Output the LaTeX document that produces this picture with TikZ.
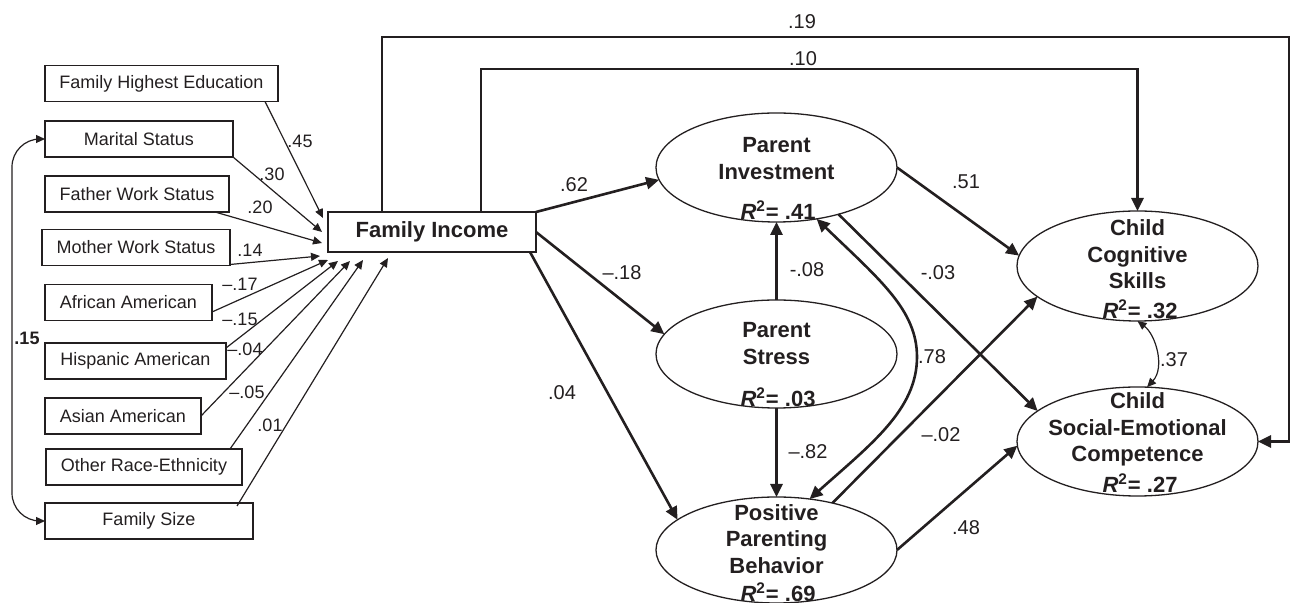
\documentclass[tikz,border=0pt]{standalone}
\usepackage{fontspec}
\setmainfont{Liberation Sans}
\usetikzlibrary{arrows.meta,calc,shapes.geometric}
\definecolor{ink}{HTML}{231F20}
\newcommand\Rsqlab[1]{\textit{R}\textsuperscript{2}= #1}
\begin{document}
\begin{tikzpicture}[x=0.5pt,y=-0.5pt,ink,
  lbox/.style={draw=ink,line width=0.75pt,inner sep=0pt,outer sep=0pt,minimum height=18pt,font=\fontsize{9}{10}\selectfont},
  lat/.style={draw=ink,ellipse,line width=0.65pt,inner sep=0pt,outer sep=0pt,minimum width=120.5pt,minimum height=54.5pt},
  ltxt/.style={font=\fontsize{11}{13.3}\selectfont\bfseries,align=center,inner sep=0pt},
  coef/.style={font=\fontsize{9}{10}\selectfont,inner sep=0pt},
  rcoef/.style={font=\fontsize{10}{11}\selectfont,inner sep=0pt},
  thinarr/.style={draw=ink,line width=0.6pt,-{Triangle[length=4.5pt,width=4pt]}},
  thinboth/.style={draw=ink,line width=0.6pt,{Triangle[length=4.5pt,width=4pt]}-{Triangle[length=4.5pt,width=4pt]}},
  thickarr/.style={draw=ink,line width=1.3pt,-{Triangle[length=6.5pt,width=6pt]}},
  thickboth/.style={draw=ink,line width=1.3pt,{Triangle[length=6.5pt,width=6pt]}-{Triangle[length=6.5pt,width=6pt]}},
]
\useasboundingbox (0,0) rectangle (1297,603);

% left exogenous boxes
\node[lbox,minimum width=116.5pt] (FHE) at (161.5,83.5) {Family Highest Education};
\node[lbox,minimum width=94pt] (MS) at (139,139) {Marital Status};
\node[lbox,minimum width=92pt] (FWS) at (137,194) {Father Work Status};
\node[lbox,minimum width=94pt] (MWS) at (136,247.5) {Mother Work Status};
\node[lbox,minimum width=83.5pt] (AA) at (128.5,302.5) {African American};
\node[lbox,minimum width=90.5pt] (HA) at (135.5,361) {Hispanic American};
\node[lbox,minimum width=78pt] (AsA) at (123,416) {Asian American};
\node[lbox,minimum width=98pt] (ORE) at (144,467) {Other Race-Ethnicity};
\node[lbox,minimum width=104pt] (FS) at (149,521) {Family Size};

% family income
\node[draw=ink,line width=0.75pt,minimum width=104pt,minimum height=20pt,inner sep=0pt,outer sep=0pt,font=\fontsize{11}{13}\selectfont\bfseries] (FI) at (432,232) {Family Income};

% latent ellipses
\node[lat] (PI) at (776.5,167.5) {};
\node[lat,minimum height=54pt] (PS) at (776.5,354) {};
\node[lat,minimum height=53pt] (PPB) at (776.5,550) {};
\node[lat,minimum height=55pt] (CCS) at (1137.5,266) {};
\node[lat] (CSEC) at (1137.5,441.5) {};

% ellipse texts
\node[ltxt] (tPI) at (776.5,158.5) {Parent\\Investment};
\node[ltxt] (rPI) at (778,210) {\Rsqlab{.41}};
\node[ltxt] (tPS) at (776.5,343.5) {Parent\\Stress};
\node[ltxt] (rPS) at (778,397) {\Rsqlab{.03}};
\node[ltxt] (tPPB) at (776.5,539) {Positive\\Parenting\\Behavior};
\node[ltxt] (rPPB) at (778,592) {\Rsqlab{.69}};
\node[ltxt] (tCCS) at (1137.5,254.5) {Child\\Cognitive\\Skills};
\node[ltxt] (rCCS) at (1140,309) {\Rsqlab{.32}};
\node[ltxt] (tCSEC) at (1137.5,429.5) {Child\\Social-Emotional\\Competence};
\node[ltxt] (rCSEC) at (1140,483) {\Rsqlab{.27}};

% left arrows into family income
\draw[thinarr] ($(FHE.south)+(103.5,0)$) -- ($(FI.north west)+(-5,6)$);
\draw[thinarr] (MS.south east) -- ($(FI.west)+(-6,0)$);
\draw[thinarr] ($(FWS.south)+(78,0)$) -- ($(FI.west)+(-6,11)$);
\draw[thinarr] ($(MWS.south east)+(0,-1)$) -- ($(FI.south west)+(-8,4)$);
\draw[thinarr] ($(AA.east)+(0,9.5)$) -- ($(FI.south west)+(0,8)$);
\draw[thinarr] ($(HA.east)+(0,-13)$) -- ($(FI.south west)+(10,9)$);
\draw[thinarr] (AsA.east) -- ($(FI.south west)+(22,9)$);
\draw[thinarr] ($(ORE.north)+(86,0)$) -- ($(FI.south west)+(35,8)$);
\draw[thinarr] ($(FS.north)+(88,3)$) -- ($(FI.south west)+(60,6)$);

% left covariance
\coordinate (lc) at (12,521);
\draw[thinboth,rounded corners=14pt] (MS.west) -| (lc) -- (FS.west);

% left coefficients
\node[coef] (c45) at (300,141) {.45};
\node[coef] (c30) at (272,174) {.30};
\node[coef] (c20) at (260,207) {.20};
\node[coef] (c14) at (250,250) {.14};
\node[coef] (c17) at (240,284) {\textendash.17};
\node[coef] (c15) at (240,319) {\textendash.15};
\node[coef] (c04b) at (245,349) {\textendash.04};
\node[coef] (c05) at (247,392) {\textendash.05};
\node[coef] (c01) at (270,425) {.01};
\node[coef,font=\fontsize{9}{10}\selectfont\bfseries] (c15b) at (27,338) {.15};

% top direct paths
\coordinate (s19) at ($(FI.north west)+(54,0)$);
\coordinate (s10) at ($(FI.north west)+(153,0)$);
\coordinate (c19) at (1289,37);
\coordinate (c10) at (1137.5,69);
\draw[thickarr] (s19) |- (c19) |- (CSEC.east);
\draw[thickarr] (s10) |- (c10) -- (CCS.north);
\node[rcoef] (l19) at (802,22) {.19};
\node[rcoef] (l10) at (803,59) {.10};

% structural paths
\draw[thickarr] (FI.north east) -- (PI.186);
\draw[thickarr] (FI.east) -- (PS.170);
\draw[thickarr] ($(FI.south east)+(-6,0)$) -- (PPB.163);
\draw[thickarr] (PS.north) -- (PI.south);
\draw[thickarr] (PS.south) -- (PPB.north);
\coordinate (m78) at (917,357);
\draw[thickboth] (PI.308) .. controls (880,280) and (917,310) .. (m78) .. controls (917,410) and (870,445) .. (PPB.57);
\draw[thickarr] (PI.323) -- (CSEC.163);
\draw[thickarr] (PI.east) -- (CCS.175);
\draw[thickarr] (PPB.40) -- (CCS.197);
\draw[thickarr] (PPB.east) -- (CSEC.182);
\draw[thinboth] (CCS.south) .. controls +(18.5,14) and +(18,-19.5) .. (CSEC.80);

% structural coefficients
\node[rcoef] (l62) at (574,185) {.62};
\node[rcoef] (l18) at (622,273) {\textendash.18};
\node[rcoef] (l04) at (562,393) {.04};
\node[rcoef] (l08) at (807,270) {-.08};
\node[rcoef] (l82) at (808,452) {\textendash.82};
\node[rcoef] (l78) at (932,357) {.78};
\node[rcoef] (l03) at (938,273) {-.03};
\node[rcoef] (l51) at (966,182) {.51};
\node[rcoef] (l02) at (941,435) {\textendash.02};
\node[rcoef] (l48) at (966,528) {.48};
\node[rcoef] (l37) at (1174,360) {.37};
\end{tikzpicture}
\end{document}
